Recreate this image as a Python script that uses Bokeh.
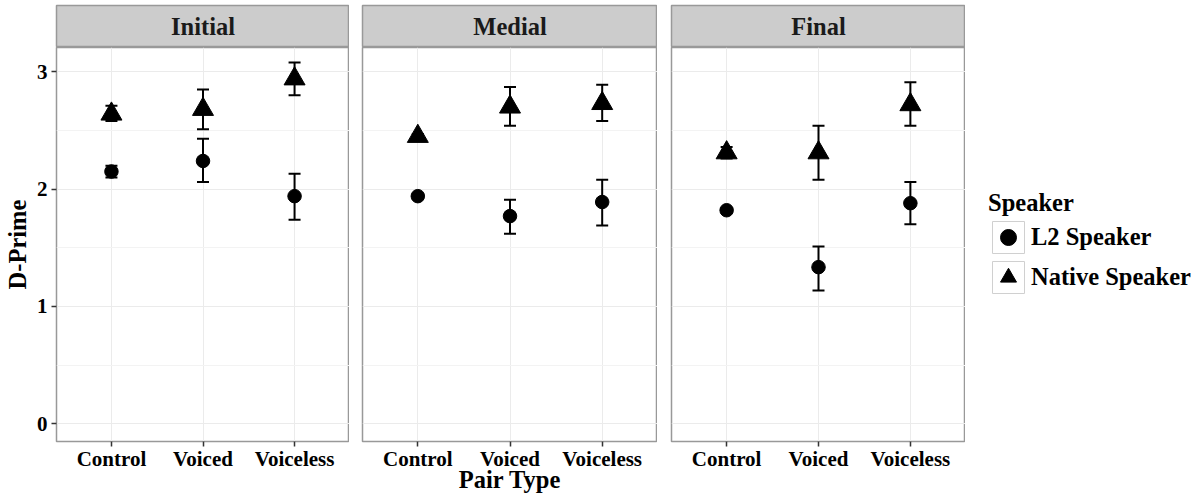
from bokeh.plotting import figure
from bokeh.layouts import row, column
from bokeh.models import (FactorRange, Range1d, FixedTicker, Whisker, TeeHead,
                          ColumnDataSource, Legend, LegendItem, Label)
from bokeh.embed import file_html
from bokeh.resources import INLINE

# ---------------- data ----------------
pair_types = ["Control", "Voiced", "Voiceless"]
positions = ["Initial", "Medial", "Final"]
speakers = ["L2 Speaker", "Native Speaker"]
y_ticks = [0, 1, 2, 3]
y_minor_ticks = [0.5, 1.5, 2.5]

initial_l2_mean = [2.15, 2.24, 1.94]
initial_l2_lower = [2.10, 2.06, 1.74]
initial_l2_upper = [2.20, 2.43, 2.13]
initial_native_mean = [2.64, 2.68, 2.94]
initial_native_lower = [2.58, 2.51, 2.80]
initial_native_upper = [2.71, 2.85, 3.08]

medial_l2_mean = [1.94, 1.77, 1.89]
medial_l2_lower = [1.92, 1.62, 1.69]
medial_l2_upper = [1.96, 1.91, 2.08]
medial_native_mean = [2.45, 2.70, 2.73]
medial_native_lower = [2.43, 2.54, 2.58]
medial_native_upper = [2.47, 2.87, 2.89]

final_l2_mean = [1.82, 1.335, 1.88]
final_l2_lower = [1.80, 1.135, 1.70]
final_l2_upper = [1.84, 1.51, 2.06]
final_native_mean = [2.31, 2.31, 2.72]
final_native_lower = [2.26, 2.08, 2.54]
final_native_upper = [2.36, 2.54, 2.91]

panel_data = {
    "Initial": ((initial_l2_mean, initial_l2_lower, initial_l2_upper),
                (initial_native_mean, initial_native_lower, initial_native_upper)),
    "Medial": ((medial_l2_mean, medial_l2_lower, medial_l2_upper),
               (medial_native_mean, medial_native_lower, medial_native_upper)),
    "Final": ((final_l2_mean, final_l2_lower, final_l2_upper),
              (final_native_mean, final_native_lower, final_native_upper)),
}

# ---------------- style ----------------
FONT = "Liberation Serif"
BORDER = "#999999"
STRIP_FILL = "#CCCCCC"
GRID_MAJOR = "#EBEBEB"
GRID_MINOR = "#F3F3F3"
TITLE_SIZE = "24.5px"
TICK_SIZE = "21px"

widths = [349, 308, 308]
left_borders = [55, 13, 14]
STRIP_H = 47
PANEL_FRAME_H = 394
BOTTOM = 56
MARKERS = (("circle", 13.5), ("triangle", 21))

columns = []
for i, pos in enumerate(positions):
    # facet strip
    s = figure(width=widths[i], height=STRIP_H, x_range=Range1d(0, 1), y_range=Range1d(0, 1),
               x_axis_location=None, y_axis_location=None,
               output_backend="svg", toolbar_location=None,
               min_border_left=left_borders[i], min_border_right=0,
               min_border_top=5, min_border_bottom=0)
    s.grid.visible = False
    s.background_fill_color = STRIP_FILL
    s.outline_line_color = BORDER
    s.outline_line_width = 1.5
    s.add_layout(Label(x=0.5, y=0.5, text=pos, text_align="center", text_baseline="middle",
                       text_font=FONT, text_font_style="bold", text_font_size=TITLE_SIZE,
                       text_color="#1A1A1A"))

    # panel
    p = figure(width=widths[i], height=PANEL_FRAME_H + BOTTOM,
               x_range=FactorRange(*pair_types, range_padding=0.1, range_padding_units="absolute"),
               y_range=Range1d(-0.151, 3.207),
               x_axis_location="below", y_axis_location="left" if i == 0 else None,
               output_backend="svg", toolbar_location=None,
               min_border_left=left_borders[i], min_border_right=0,
               min_border_top=0, min_border_bottom=BOTTOM)
    p.outline_line_color = BORDER
    p.outline_line_width = 1.5

    p.ygrid.ticker = FixedTicker(ticks=y_ticks, minor_ticks=y_minor_ticks)
    p.ygrid.grid_line_color = GRID_MAJOR
    p.ygrid.minor_grid_line_color = GRID_MINOR
    p.xgrid.grid_line_color = GRID_MAJOR

    xa = p.xaxis[0]
    xa.axis_line_color = None
    xa.major_tick_line_color = "#333333"
    xa.major_tick_line_width = 1.5
    xa.major_tick_out = 5
    xa.major_tick_in = 0
    xa.minor_tick_line_color = None
    xa.major_label_text_font = FONT
    xa.major_label_text_font_style = "bold"
    xa.major_label_text_font_size = TICK_SIZE
    xa.major_label_text_color = "black"
    xa.major_label_standoff = 0
    if i == 1:
        # shared x-axis title, centred under the middle panel
        xa.axis_label = "Pair Type"
        xa.axis_label_text_font = FONT
        xa.axis_label_text_font_style = "bold"
        xa.axis_label_text_font_size = TITLE_SIZE
        xa.axis_label_text_color = "black"
        xa.axis_label_standoff = -8

    if i == 0:
        ya = p.yaxis[0]
        ya.ticker = FixedTicker(ticks=y_ticks, minor_ticks=y_minor_ticks)
        ya.axis_line_color = None
        ya.major_tick_line_color = "#333333"
        ya.major_tick_line_width = 1.5
        ya.major_tick_out = 5
        ya.major_tick_in = 0
        ya.minor_tick_line_color = None
        ya.major_label_text_font = FONT
        ya.major_label_text_font_style = "bold"
        ya.major_label_text_font_size = TICK_SIZE
        ya.major_label_text_color = "black"
        ya.major_label_standoff = 4
        ya.axis_label = "D-Prime"
        ya.axis_label_text_font = FONT
        ya.axis_label_text_font_style = "bold"
        ya.axis_label_text_font_size = TITLE_SIZE
        ya.axis_label_text_color = "black"
        ya.axis_label_standoff = 3

    l2, native = panel_data[pos]
    for (mean, lower, upper), (marker, size) in zip((l2, native), MARKERS):
        src = ColumnDataSource(dict(pair=pair_types, mean=mean, lower=lower, upper=upper))
        p.add_layout(Whisker(base="pair", upper="upper", lower="lower", source=src,
                             line_color="black", line_width=2,
                             upper_head=TeeHead(size=12, line_color="black", line_width=2),
                             lower_head=TeeHead(size=12, line_color="black", line_width=2)))
        p.scatter(x="pair", y="mean", source=src, marker=marker, size=size,
                  fill_color="black", line_color="black")

    columns.append(column(s, p))

# ---------------- legend ----------------
total_h = STRIP_H + PANEL_FRAME_H + BOTTOM
lg = figure(width=230, height=total_h,
            x_range=FactorRange(*pair_types), y_range=Range1d(0, 1),
            x_axis_location=None, y_axis_location=None,
            output_backend="svg", toolbar_location=None,
            min_border_left=0, min_border_right=0, min_border_top=0, min_border_bottom=0)
lg.grid.visible = False
lg.outline_line_color = None

items = []
for k, ((mean, lower, upper), (marker, size)) in enumerate(
        zip(panel_data["Initial"], MARKERS)):
    src = ColumnDataSource(dict(pair=pair_types, mean=mean))
    box = lg.rect(x="pair", y="mean", width=0.1, height=0.1, source=src,
                  fill_color=None, line_color="#D0D0D0", line_width=1, visible=False)
    mk = lg.scatter(x="pair", y="mean", source=src, marker=marker, size=size,
                    fill_color="black", line_color="black", visible=False)
    items.append(LegendItem(label=speakers[k], renderers=[box, mk]))

legend = Legend(
    items=items,
    location=(23, total_h - 297),
    title="Speaker",
    title_text_font=FONT, title_text_font_style="bold", title_text_font_size=TITLE_SIZE,
    title_text_color="black", title_standoff=0,
    label_text_font=FONT, label_text_font_style="bold", label_text_font_size=TITLE_SIZE,
    label_text_color="black", label_text_baseline="middle",
    glyph_width=40, glyph_height=40, spacing=0, label_standoff=3,
    padding=0, margin=0,
    border_line_color=None, background_fill_alpha=0,
    click_policy="none",
)
lg.add_layout(legend)

layout = row(*columns, lg)

open("out.html", "w").write(file_html(layout, INLINE))
